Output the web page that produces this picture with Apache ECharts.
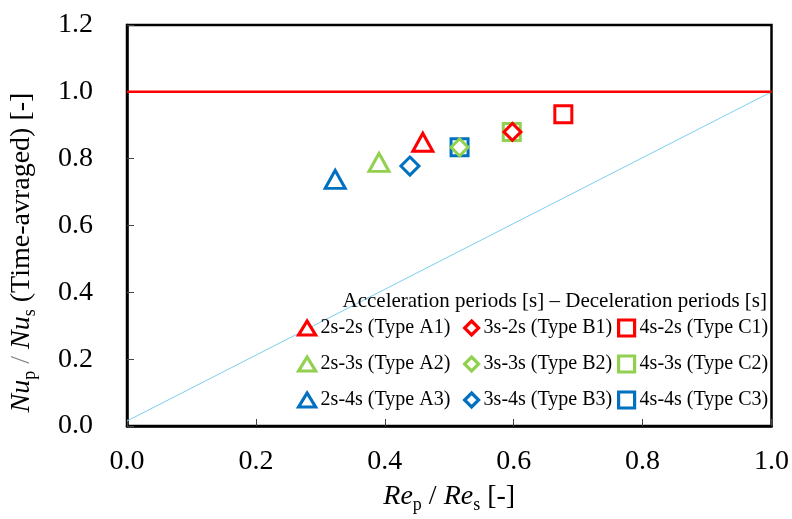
<!DOCTYPE html>
<html>
<head>
<meta charset="utf-8">
<script src="https://cdn.jsdelivr.net/npm/echarts@6/dist/echarts.min.js"></script>
<style>
html,body{margin:0;padding:0;background:#fff;}
#c{width:792px;height:519px;}
</style>
</head>
<body>
<div id="c"></div>
<script>
// ---- data ----
var xTicks = [0.0, 0.2, 0.4, 0.6, 0.8, 1.0];
var yTicks = [0.0, 0.2, 0.4, 0.6, 0.8, 1.0, 1.2];
var seriesNames = ['2s-2s (Type A1)', '2s-3s (Type A2)', '2s-4s (Type A3)',
                   '3s-2s (Type B1)', '3s-3s (Type B2)', '3s-4s (Type B3)',
                   '4s-2s (Type C1)', '4s-3s (Type C2)', '4s-4s (Type C3)'];
var A1 = [[0.459, 0.849]];
var A2 = [[0.391, 0.789]];
var A3 = [[0.323, 0.738]];
var B1 = [[0.598, 0.880]];
var B2 = [[0.516, 0.834]];
var B3 = [[0.439, 0.778]];
var C1 = [[0.677, 0.933]];
var C2 = [[0.597, 0.880]];
var C3 = [[0.516, 0.834]];
var refLine = [[0, 1.0], [1.0, 1.0]];
var diagLine = [[0, 0.015], [1.0, 1.0]];

var RED = '#ff0000', GREEN = '#92d050', BLUE = '#0070c0';
var FONT = 'Liberation Serif';

function sc(name, data, sym, col, size) {
  return {
    name: name, type: 'scatter', data: data, symbol: sym, symbolSize: size,
    itemStyle: { color: '#fff', borderColor: col, borderWidth: 3, opacity: 1 },
    emphasis: { disabled: true }
  };
}

var series = [
  { type: 'line', data: diagLine, showSymbol: false, symbol: 'none',
    lineStyle: { color: '#7ccff0', width: 1 }, silent: true, z: 1 },
  { type: 'line', data: refLine, showSymbol: false, symbol: 'none',
    lineStyle: { color: RED, width: 2.5 }, silent: true, z: 1 },
  sc(seriesNames[0], A1, 'triangle', RED, [20, 18]),
  sc(seriesNames[1], A2, 'triangle', GREEN, [20, 18]),
  sc(seriesNames[2], A3, 'triangle', BLUE, [20, 18]),
  sc(seriesNames[6], C1, 'rect', RED, 17),
  sc(seriesNames[7], C2, 'rect', GREEN, 17),
  sc(seriesNames[8], C3, 'rect', BLUE, 17),
  sc(seriesNames[3], B1, 'diamond', RED, [17, 17]),
  sc(seriesNames[4], B2, 'diamond', GREEN, [17, 17]),
  sc(seriesNames[5], B3, 'diamond', BLUE, [18, 18])
];

var legText = { fontFamily: FONT, fontSize: 20, color: '#000', lineHeight: 22 };
function leg(names, left, w, h) {
  return {
    data: names, orient: 'vertical', left: left, top: 317, padding: 0,
    itemWidth: w, itemHeight: h, itemGap: 14, textStyle: legText,
    selectedMode: false,
    itemStyle: { borderWidth: 3.2 }
  };
}

var richName = {
  i: { fontFamily: FONT, fontSize: 28, fontStyle: 'italic', color: '#000', lineHeight: 34 },
  n: { fontFamily: FONT, fontSize: 28, color: '#000', lineHeight: 34 },
  g: { fontFamily: FONT, fontSize: 28, color: '#888', lineHeight: 34 },
  sub: { fontFamily: FONT, fontSize: 18, color: '#000', verticalAlign: 'bottom', lineHeight: 17 }
};

var option = {
  animation: false,
  backgroundColor: '#fff',
  title: {
    text: 'Acceleration periods [s] \u2013 Deceleration periods [s]',
    right: 25, top: 291, padding: 0,
    textStyle: { fontFamily: FONT, fontSize: 21, fontWeight: 'normal', color: '#000' }
  },
  legend: [
    leg(seriesNames.slice(0, 3), 297, 17, 14),
    leg(seriesNames.slice(3, 6), 463, 14, 14),
    leg(seriesNames.slice(6, 9), 617, 16, 16)
  ],
  grid: {
    left: 127, right: 18, top: 25, bottom: 93,
    show: true, borderColor: '#000', borderWidth: 2.5, backgroundColor: 'transparent'
  },
  xAxis: {
    type: 'value', min: xTicks[0], max: xTicks[xTicks.length - 1], interval: 0.2,
    axisLine: { show: true, lineStyle: { color: '#000', width: 2.5 } },
    axisTick: { show: true, inside: true, length: 7, lineStyle: { color: '#444', width: 1 } },
    splitLine: { show: false },
    axisLabel: { fontFamily: FONT, fontSize: 28, color: '#000', margin: 22,
      formatter: function (v) { return v.toFixed(1); } },
    name: '{i|Re}{sub|p}{n| / }{i|Re}{sub|s}{n| [-]}',
    nameLocation: 'middle', nameGap: 54,
    nameTextStyle: { rich: richName }
  },
  yAxis: {
    type: 'value', min: yTicks[0], max: yTicks[yTicks.length - 1], interval: 0.2,
    axisLine: { show: true, lineStyle: { color: '#000', width: 2.5 } },
    axisTick: { show: true, inside: true, length: 7, lineStyle: { color: '#444', width: 1 } },
    splitLine: { show: false },
    axisLabel: { fontFamily: FONT, fontSize: 28, color: '#000', margin: 34,
      formatter: function (v) { return v.toFixed(1); } },
    name: '{i|Nu}{sub|p}{g| / }{i|Nu}{sub|s}{n| (Time-avraged) [-]}',
    nameLocation: 'middle', nameGap: 88, nameRotate: 90,
    nameTextStyle: { rich: richName, padding: [0, 54, 0, 0] }
  },
  series: series
};

var chart = echarts.init(document.getElementById('c'), null, { renderer: 'canvas' });
chart.setOption(option);
</script>
</body>
</html>
